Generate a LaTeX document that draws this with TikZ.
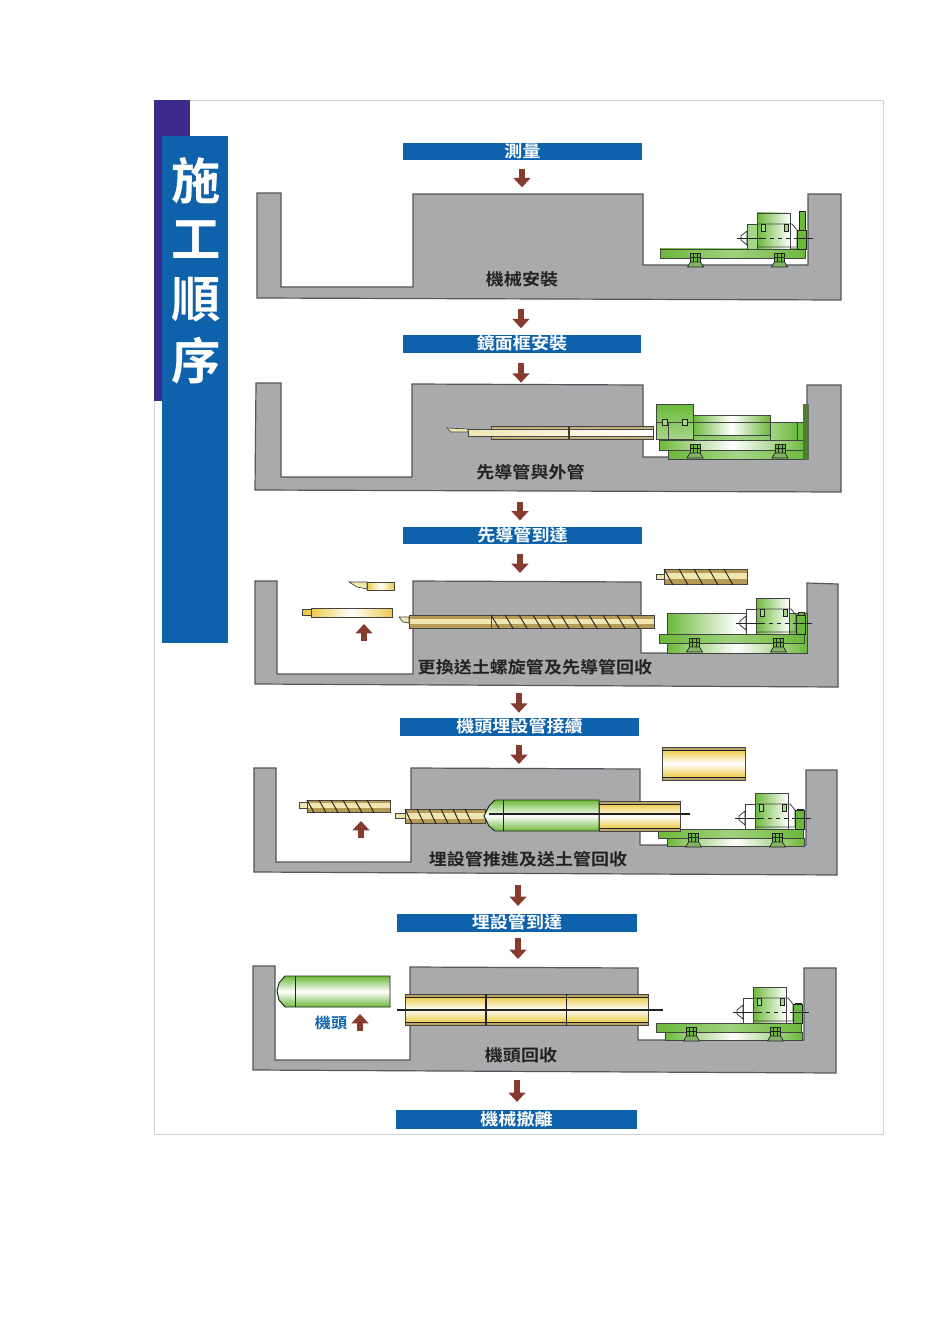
\documentclass[tikz,border=0pt]{standalone}
\usepackage{fontspec}
\usetikzlibrary{arrows.meta}
\newfontfamily\cjk[BoldFont={Noto Sans CJK TC Bold}]{Noto Sans CJK TC}
\newfontfamily\cjkw[BoldFont={Noto Sans CJK TC Bold},FakeStretch=1.1]{Noto Sans CJK TC}
\definecolor{gnd}{HTML}{A9AAAC}
\definecolor{gline}{HTML}{55575A}
\definecolor{barblue}{HTML}{0E62AC}
\definecolor{panelpurple}{HTML}{3D2A8C}
\definecolor{flowred}{HTML}{873A2E}
\definecolor{mgreen}{HTML}{6CB93A}
\definecolor{mlight}{HTML}{A6D68A}
\definecolor{tan}{HTML}{B79A56}
\definecolor{pale}{HTML}{F2E6B0}
\definecolor{pyellow}{HTML}{EBCB4A}
\definecolor{ink}{HTML}{222222}
\tikzset{
  ground/.style={fill=gnd,draw=gline,line width=0.9pt,line join=miter},
  bar/.style={fill=barblue,minimum height=13.2pt,inner sep=0pt,text=white,text height=9.6pt,text depth=1.2pt,font=\cjkw\bfseries\fontsize{12.3}{12.3}\selectfont,anchor=center},
  lab/.style={text=ink,font=\cjkw\bfseries\fontsize{12.3}{12.3}\selectfont,inner sep=0pt},
  ttl/.style={text=white,font=\cjk\bfseries\fontsize{37}{37}\selectfont,inner sep=0pt},
  flow/.style={draw=flowred,line width=4pt,-{Triangle[width=12.5pt,length=7pt]}},
  part/.style={draw=ink!85,line width=0.6pt},
  thin/.style={draw=ink,line width=0.6pt},
}
% plain tube: x1 x2 y1 y2
\newcommand{\plaintube}[4]{%
  \fill[tan] (#1,#3) rectangle (#2,#4);
  \fill[pale] (#1,{#3+(#4-#3)*0.28}) rectangle (#2,{#3+(#4-#3)*0.68});
  \draw[part] (#1,#3) rectangle (#2,#4);
}
% screw: x1 x2 y1 y2 pitch
\newcommand{\screwtube}[5]{%
  \plaintube{#1}{#2}{#3}{#4}
  \pgfmathtruncatemacro{\nst}{(#2-#1)/#5-1}
  \foreach \i in {0,...,\nst}{\draw[ink,line width=0.7pt] ({#1+\i*#5},#3) -- ({#1+\i*#5+#5*0.6},{#4+1});}
}
% yellow pipe: x1 x2 y1 y2
\newcommand{\ypipe}[4]{%
  \shade[top color=tan,bottom color=tan,middle color=white] (#1,#3) rectangle (#2,#4);
  \shade[top color=pyellow,bottom color=pyellow,middle color=white] (#1,{#3+3}) rectangle (#2,{#4-3});
  \draw[part] (#1,#3) rectangle (#2,#4);
  \draw[ink,line width=0.5pt] (#1,{#3+3}) -- (#2,{#3+3}) (#1,{#4-3}) -- (#2,{#4-3});
}
\newcommand{\jack}[2]{%
  \fill[mgreen,draw=ink,line width=0.5pt] ({#1-5},{#2-14}) rectangle ({#1+5},{#2-5});
  \draw[ink,line width=0.5pt] ({#1-2},{#2-14}) -- ({#1-2},{#2-5}) ({#1+2},{#2-14}) -- ({#1+2},{#2-5}) ({#1-5},{#2-10}) -- ({#1+5},{#2-10});
  \fill[mgreen!60!gnd,draw=ink,line width=0.5pt] ({#1-8},#2) -- ({#1-5},{#2-5}) -- ({#1+5},{#2-5}) -- ({#1+8},#2) -- cycle;
}
% machine: dx dy frontfill posttop
\newcommand{\machine}[4]{%
  \begin{scope}[shift={(#1,#2)}]
    \shade[left color=mgreen,right color=mgreen,middle color=mgreen!65] (660,249) rectangle (805,258);
    \draw[part] (660,249) rectangle (805,258);
    \jack{695.5}{267}\jack{779.5}{267}
    \shade[left color=mgreen,right color=white,draw=ink!85,line width=0.6pt] (757,213) rectangle (790,249);
    \draw[part] (757,224) -- (792,224) -- (797,230) -- (797,247) -- (757,247);
    \fill[#3,draw=ink!85,line width=0.6pt] (747,224) rectangle (757,249);
    \fill[white,draw=ink,line width=0.5pt] (747,231) -- (741,236) -- (741,240) -- (747,245) -- cycle;
    \fill[mlight,draw=ink,line width=0.5pt] (761,224) rectangle (765,231);
    \fill[mlight,draw=ink,line width=0.5pt] (784,224) rectangle (788,231);
    \fill[mgreen,draw=ink,line width=0.5pt] (797,230) rectangle (806,249);
    \fill[mgreen,draw=ink,line width=0.5pt] (799,#4) rectangle (805,230);
    \draw[ink,line width=0.7pt] (737,238) -- (762,238);
    \draw[ink,line width=0.7pt,dashed] (762,238) -- (796,238);
    \draw[ink,line width=0.7pt] (796,238) -- (813,238);
  \end{scope}
}
% lower base under the rail: dx dy
\newcommand{\lowerbase}[2]{%
  \begin{scope}[shift={(#1,#2)}]
    \shade[left color=mgreen,right color=mgreen,middle color=white,draw=ink!85,line width=0.6pt] (669,258) rectangle (806,266);
  \end{scope}
}
\begin{document}
\begin{tikzpicture}[x=0.75pt,y=-0.75pt]
\useasboundingbox (0,0) rectangle (950,1344);
\fill[white] (0,0) rectangle (950,1344);
\draw[black!18,line width=0.5pt,fill=white] (154,100) rectangle (883,1134);
% side panel
\fill[panelpurple] (154,100) rectangle (190,401);
\fill[barblue] (162,136) rectangle (228,643);
\node[ttl] (t1) at (196,181) {施};
\node[ttl] (t2) at (196,240) {工};
\node[ttl] (t3) at (196,300) {順};
\node[ttl] (t4) at (196,361) {序};
% step bars
\node[bar,minimum width=179.3pt] (s1) at (522.5,151.5) {測量};
\node[bar,minimum width=178.5pt] (s2) at (522,344) {鏡面框安裝};
\node[bar,minimum width=179.3pt] (s3) at (522.5,535.5) {先導管到達};
\node[bar,minimum width=179.3pt] (s4) at (519.5,727) {機頭埋設管接續};
\node[bar,minimum width=180pt] (s5) at (517,923) {埋設管到達};
\node[bar,minimum width=180.8pt,minimum height=14pt] (s6) at (516.5,1119.5) {機械撤離};
% basin 1
\draw[ground] (257,193) -- (281,193) -- (281,287) -- (413,287) -- (413,194) -- (643,194) -- (643,265) -- (808,265) -- (808,194) -- (841,194) -- (841,300) -- (257,298) -- cycle;
\coordinate (b1t) at (522,194); \coordinate (b1b) at (521,300);
\machine{0}{0}{mlight}{211}
\node[lab] (l1) at (522,279) {機械安裝};
% basin 2
\draw[ground] (256,383) -- (281,383) -- (281,477) -- (412,477) -- (412,384) -- (643,385) -- (643,457) -- (807,457) -- (807,385) -- (841,385) -- (841,492) -- (255,490) -- cycle;
\coordinate (b2t) at (521,384); \coordinate (b2b) at (520,491);
\ypipe{491}{653}{426}{439}
\shade[left color=pale,right color=white,draw=ink!85,line width=0.5pt] (468,429) rectangle (653,436);
\fill[pale,draw=ink!85,line width=0.5pt] (447,428) -- (468,429) -- (468,432) -- (451,432) -- cycle;
\draw[ink!80!tan,line width=1pt] (569,426) -- (569,439);
\shade[left color=mgreen,right color=mgreen,middle color=mlight,draw=ink!85,line width=0.6pt] (668,422) rectangle (808,459);
\shade[left color=mgreen,right color=mgreen,middle color=white,draw=ink!85,line width=0.6pt] (693,415) rectangle (770,435);
\shade[left color=mlight,right color=mgreen,draw=ink!85,line width=0.6pt] (770,422) rectangle (797,440);
\shade[left color=mgreen,right color=mgreen,middle color=white,draw=ink!85,line width=0.6pt] (659,440) rectangle (806,450);
\jack{695}{458}\jack{780}{458}
\shade[top color=mgreen,bottom color=mlight,draw=ink!85,line width=0.6pt] (656,404) rectangle (693,439);
\draw[part] (668,422) -- (668,439);
\draw[part] (656,422) -- (803,422);
\fill[mlight,draw=ink,line width=0.5pt] (662,419) rectangle (667,425);
\fill[mlight,draw=ink,line width=0.5pt] (682,419) rectangle (687,425);
\fill[mgreen!70!black,draw=ink!70,line width=0.5pt] (803,404) rectangle (808,459);
\node[lab] (l2) at (530.5,472) {先導管與外管};
% basin 3
\draw[ground] (255,581) -- (277,581) -- (277,674) -- (413,674) -- (413,581) -- (641,582) -- (641,653) -- (807,653) -- (807,583) -- (838,584) -- (838,687) -- (255,684) -- cycle;
\coordinate (b3t) at (520,581); \coordinate (b3b) at (519,686);
\plaintube{409}{491}{615}{628}
\screwtube{491}{654}{615}{628}{14}
\fill[pale,draw=ink!85,line width=0.5pt] (399,617) -- (409,617) -- (409,623) -- (403,622) -- cycle;
\screwtube{664}{747}{569}{584}{15}
\fill[pale,draw=ink!85,line width=0.5pt] (656,574) rectangle (664,579);
\shade[left color=pyellow,right color=pyellow,middle color=white,draw=ink!85,line width=0.5pt] (367,582) rectangle (394,590);
\fill[pale,draw=ink!85,line width=0.5pt] (349,582) -- (367,582) -- (367,589) -- (357,587) -- cycle;
\shade[left color=pyellow,right color=pyellow,middle color=white,draw=ink!85,line width=0.5pt] (311,608) rectangle (392,617);
\fill[pyellow,draw=ink!85,line width=0.5pt] (302,609) rectangle (311,615);
\shade[left color=mgreen,right color=mgreen,middle color=white,draw=ink!85,line width=0.6pt] (667,613) rectangle (807,653);
\machine{-1}{385}{white}{227}
\coordinate (a3a) at (364,641); \coordinate (a3b) at (364,624);
\draw[flow] (a3a) -- (a3b);
\node[lab] (l3) at (535,667) {更換送土螺旋管及先導管回收};
% basin 4
\draw[ground] (254,768) -- (276,768) -- (276,862) -- (411,862) -- (411,768) -- (640,769) -- (640,845) -- (806,845) -- (806,770) -- (837,770) -- (837,875) -- (254,872) -- cycle;
\coordinate (b4t) at (519,768); \coordinate (b4b) at (518,874);
\ypipe{662}{745}{747}{780}
\screwtube{307}{390}{800}{812}{12}
\fill[pale,draw=ink!85,line width=0.5pt] (299,802) rectangle (307,808);
\lowerbase{-2}{580}
\machine{-2}{580}{white}{229}
\screwtube{405}{485}{809}{823}{12}
\fill[pale,draw=ink!85,line width=0.5pt] (395,813) rectangle (405,818);
\shade[top color=mgreen,bottom color=mgreen,middle color=white,draw=ink,line width=0.7pt] (495,800) -- (599,800) -- (599,831) -- (495,831) -- (489,826) -- (484,816) -- (489,806) -- cycle;
\draw[thin] (503,800) -- (503,831);
\ypipe{599}{680}{801}{831}
\draw[ink,line width=0.8pt] (489,814) -- (690,814);
\coordinate (a4a) at (361,838); \coordinate (a4b) at (361,821);
\draw[flow] (a4a) -- (a4b);
\node[lab] (l4) at (528,859) {埋設管推進及送土管回收};
% basin 5
\draw[ground] (253,966) -- (275,966) -- (275,1060) -- (410,1060) -- (410,967) -- (638,968) -- (638,1040) -- (804,1040) -- (804,968) -- (836,968) -- (836,1073) -- (253,1070) -- cycle;
\coordinate (b5t) at (518,967); \coordinate (b5b) at (517,1072);
\lowerbase{-4}{774}
\machine{-4}{774}{white}{229}
\shade[top color=mgreen,bottom color=mgreen,middle color=white,draw=ink,line width=0.7pt] (285,976) -- (390,976) -- (390,1007) -- (285,1007) -- (279,1000) -- (277,991) -- (279,983) -- cycle;
\draw[thin] (295,976) -- (295,1007);
\ypipe{405}{648}{994}{1025}
\draw[ink,line width=0.9pt] (486,994) -- (486,1025) (566.5,994) -- (566.5,1025);
\draw[ink,line width=0.8pt] (397,1010) -- (663,1010);
\node[lab,text=barblue,font=\cjkw\bfseries\fontsize{11}{11}\selectfont] (l5b) at (331,1023) {機頭};
\coordinate (a5a) at (360,1031); \coordinate (a5b) at (360,1014);
\draw[flow] (a5a) -- (a5b);
\node[lab] (l5) at (521,1055) {機頭回收};
% flow arrows
\path (s1.south) ++(-0.5,0) coordinate (f1);
\path (s2.south) ++(-1,0) coordinate (f2);
\path (s3.south) ++(-2.5,0) coordinate (f3);
\path (s4.south) ++(-0.5,0) coordinate (f4);
\path (s5.south) ++(1,0) coordinate (f5);
\draw[flow,shorten <=6pt,shorten >=5pt] (f1) -- (b1t);
\draw[flow,shorten <=7pt,shorten >=5pt] (b1b) -- (b1b |- s2.north);
\draw[flow,shorten <=7.5pt,shorten >=1pt] (f2) -- (b2t);
\draw[flow,shorten <=8pt,shorten >=4.5pt] (b2b) -- (b2b |- s3.north);
\draw[flow,shorten <=7pt,shorten >=6pt] (f3) -- (b3t);
\draw[flow,shorten <=5.5pt,shorten >=4pt] (b3b) -- (b3b |- s4.north);
\draw[flow,shorten <=7pt,shorten >=3pt] (f4) -- (b4t);
\draw[flow,shorten <=8pt,shorten >=6pt] (b4b) -- (b4b |- s5.north);
\draw[flow,shorten <=4.5pt,shorten >=6pt] (f5) -- (b5t);
\draw[flow,shorten <=6pt,shorten >=6pt] (b5b) -- (b5b |- s6.north);
\end{tikzpicture}
\end{document}
